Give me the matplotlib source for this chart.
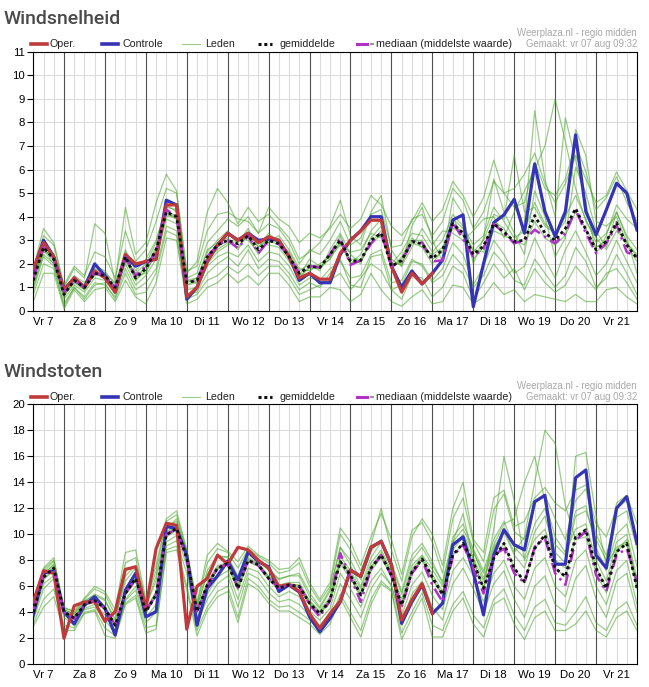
import numpy as np
import matplotlib
matplotlib.use('Agg')
import matplotlib.pyplot as plt
from matplotlib.lines import Line2D

W, H = 649, 687

# 6-hourly steps, Fri 7 06:00 -> Sat 22 00:00
day_labels = ['Vr 7', 'Za 8', 'Zo 9', 'Ma 10', 'Di 11', 'Wo 12', 'Do 13', 'Vr 14',
              'Za 15', 'Zo 16', 'Ma 17', 'Di 18', 'Wo 19', 'Do 20', 'Vr 21']

# ---- Windsnelheid ----
speed_oper = [1.8,2.9,2.3,0.9,1.4,1.0,1.7,1.4,0.8,2.4, 2.0,2.1,2.2,4.5,4.5,0.6,1.0,2.1,2.8,3.3,
              3.0,3.3,2.9,3.15,3.0,2.3,1.4,1.6,1.35,1.35, 2.45,3.0,3.4,3.85,3.85,1.9,0.8,1.6,1.15,1.6]
speed_ctrl = [1.7,3.0,2.3,0.9,1.4,1.0,2.0,1.5,0.8,2.3, 1.9,2.1,2.2,4.7,4.5,0.5,1.0,2.1,2.8,3.3,
              3.0,3.3,3.0,3.05,3.0,2.3,1.3,1.6,1.2,1.2, 2.4,3.0,3.4,4.0,4.0,1.9,1.0,1.7,1.15,1.6,
              2.16,3.86,4.08,0.18,2.0,3.75,4.08,4.74,3.3,6.24, 4.22,3.16,4.22,7.47,4.22,3.23,4.29,5.42,5.0,3.44]
speed_mean = [1.3,2.7,2.2,0.7,1.3,1.0,1.6,1.5,1.0,2.3, 1.4,1.8,2.6,4.2,4.0,1.2,1.3,2.3,2.8,3.0,
              2.85,3.2,2.6,3.0,2.85,2.3,1.6,1.9,1.85,2.4, 3.0,2.1,2.15,3.0,3.3,1.9,2.15,2.95,2.85,2.23,
              2.6,3.7,3.3,2.4,2.75,3.7,3.35,2.95,3.0,4.05, 3.3,3.0,3.5,4.35,3.45,2.6,2.95,3.75,2.8,2.23]
speed_median = [1.4,2.7,2.2,0.8,1.3,1.0,1.6,1.5,1.0,2.3, 1.5,1.9,2.5,4.3,4.0,1.2,1.3,2.3,2.8,3.0,
                2.66,3.2,2.45,3.0,2.85,2.3,1.6,1.9,1.85,2.4, 3.1,1.95,2.15,2.85,3.35,1.9,2.1,2.95,2.9,2.1,
                2.15,3.75,3.05,2.3,2.65,3.7,3.3,2.87,3.0,3.45, 3.15,2.87,3.3,4.3,3.3,2.45,2.87,3.65,2.5,2.3]
speed_members = [
    [1.6,3.2,2.8,1.0,1.8,1.4,3.7,3.3,1.2,4.4, 2.4,2.9,4.6,5.8,5.1,1.6,2.1,4.2,5.2,4.6,
     3.7,4.4,3.8,4.1,3.6,3.1,2.2,2.5,2.9,3.6, 4.7,3.2,2.8,4.2,4.9,2.6,1.9,3.6,4.4,3.0,
     2.1,4.8,4.1,2.0,3.1,5.6,4.2,3.3,2.4,5.1, 4.0,2.3,3.1,6.1,5.0,3.4,2.7,4.2,3.1,1.6],
    [0.9,2.3,1.9,0.3,1.0,0.6,1.2,1.1,0.6,1.8, 0.9,1.2,1.8,3.6,3.4,0.7,0.8,1.6,2.0,2.3,
     1.9,2.6,1.8,2.2,2.1,1.6,0.9,1.2,1.0,1.6, 2.2,1.1,1.0,2.3,2.4,0.9,1.1,2.1,2.0,1.3,
     1.8,2.9,2.4,1.1,1.9,3.0,2.4,1.6,1.9,3.1, 2.2,1.4,2.6,3.4,2.5,1.5,2.0,3.0,2.1,1.2],
    [1.4,2.9,2.4,0.9,1.4,1.1,1.9,1.7,1.1,2.6, 1.7,2.2,3.0,4.4,4.3,1.4,1.6,2.9,3.4,3.9,
     3.6,4.0,3.3,3.7,3.5,2.9,2.0,2.6,2.4,3.0, 3.8,2.8,3.1,4.1,4.3,2.7,2.8,3.9,4.1,3.2,
     3.8,5.2,4.7,3.5,4.2,5.5,5.0,4.4,4.6,6.3, 5.2,4.9,5.6,7.1,5.9,4.3,4.8,5.7,4.6,3.8],
    [1.0,2.4,2.0,0.5,1.1,0.8,1.4,1.3,0.8,2.0, 1.1,1.5,2.2,3.9,3.7,0.9,1.0,1.9,2.3,2.5,
     2.3,2.8,2.1,2.5,2.4,1.9,1.1,1.4,1.3,1.8, 2.1,1.4,1.5,2.4,2.6,1.2,1.3,2.2,1.9,1.2,
     1.5,2.4,1.9,1.0,1.5,2.5,2.0,1.3,1.1,2.2, 1.6,1.0,1.5,2.7,2.1,1.0,1.4,2.4,1.6,0.7],
    [0.4,1.6,1.6,0.1,0.9,0.4,0.9,1.0,0.4,1.3, 0.6,0.3,1.2,3.1,3.0,0.3,0.5,1.0,1.2,1.6,
     1.2,1.5,1.1,1.6,1.6,1.1,0.4,0.6,0.6,1.0, 0.9,0.4,0.7,1.6,0.9,0.4,0.2,0.6,0.9,0.3,
     0.4,1.1,1.0,0.3,0.6,1.2,0.7,0.9,0.4,0.7, 0.6,0.5,0.4,0.7,0.4,0.4,0.9,1.0,0.6,0.3],
    [1.3,2.7,2.1,0.7,1.2,0.9,1.6,1.4,1.0,2.4, 1.4,1.9,2.7,4.1,3.9,1.2,1.4,2.5,3.0,3.4,
     2.9,3.5,2.7,3.3,2.9,2.5,1.7,2.0,1.7,2.6, 3.3,2.4,2.0,3.1,3.6,2.0,2.5,3.3,3.2,2.5,
     3.0,4.1,3.6,2.8,3.2,4.4,3.8,3.1,3.4,4.6, 3.7,3.3,4.0,4.9,3.9,2.9,3.3,4.2,3.2,2.6],
    [1.5,2.6,2.3,0.8,1.5,1.2,1.8,1.6,1.2,2.2, 1.6,2.0,2.9,4.5,4.2,1.3,1.2,2.2,2.6,2.9,
     3.1,3.0,2.5,2.9,3.2,2.6,1.8,1.7,2.0,2.3, 2.8,2.5,2.6,3.3,3.1,2.2,1.9,2.7,3.5,2.8,
     3.4,3.3,3.0,3.4,3.9,4.0,3.1,4.2,5.1,6.0, 7.0,9.0,7.2,5.2,3.8,3.1,2.6,3.4,2.9,2.3],
    [1.2,2.8,2.2,0.6,1.3,1.0,1.5,1.6,0.9,2.5, 1.3,1.7,2.4,4.0,4.1,1.1,1.3,2.6,2.9,3.1,
     2.6,3.3,2.9,2.8,2.7,2.1,1.5,2.2,1.9,2.2, 3.2,2.0,2.4,3.4,3.9,1.8,2.3,3.1,2.7,2.0,
     2.6,3.9,3.2,2.2,2.7,3.8,3.5,2.8,3.7,8.5, 5.6,4.0,8.2,6.4,4.6,2.4,3.2,4.5,3.9,3.5],
    [1.1,2.5,2.4,0.7,1.2,1.1,1.7,1.4,1.0,2.1, 1.5,1.6,2.5,4.3,4.0,1.3,1.4,2.0,2.5,2.8,
     3.0,3.1,2.4,3.0,2.8,2.3,1.5,1.8,1.8,2.2, 2.9,2.2,2.2,2.9,3.2,2.0,2.0,2.9,2.7,2.4,
     2.7,3.5,3.4,2.6,2.5,3.4,3.2,3.0,2.8,3.8, 3.1,2.8,3.2,4.2,3.5,2.7,3.0,3.6,2.8,2.1],
    [1.3,2.6,2.0,0.7,1.3,0.9,1.6,1.5,1.0,2.2, 1.3,1.9,2.6,4.2,3.9,1.1,1.2,2.3,2.7,3.0,
     2.7,3.3,2.7,3.1,2.9,2.2,1.4,1.9,1.8,2.4, 2.9,2.0,2.1,2.9,3.4,1.8,2.2,3.0,3.0,2.2,
     2.5,3.9,3.5,2.5,3.0,4.1,3.9,6.6,4.2,4.4, 3.6,3.3,3.8,7.7,6.6,3.8,3.6,4.0,2.9,2.4],
    [0.7,2.0,1.8,0.2,1.0,0.5,1.1,1.2,0.5,1.6, 0.7,0.8,1.6,3.4,3.2,0.5,0.7,1.3,1.5,1.9,
     1.6,2.0,1.5,1.9,1.9,1.4,0.7,0.9,1.1,1.3, 1.6,0.9,1.4,2.0,1.7,0.9,0.5,1.5,1.4,0.6,
     1.0,1.9,1.6,0.5,1.2,2.0,1.4,1.8,0.9,1.8, 1.2,0.8,1.1,1.9,1.4,0.9,1.6,1.8,1.2,0.5],
    [1.8,3.5,2.9,1.1,1.9,1.5,2.5,2.3,1.4,3.4, 2.1,2.6,3.8,5.2,5.0,1.7,1.9,3.4,4.1,4.2,
     3.9,3.8,3.3,4.4,3.9,3.6,2.9,3.3,3.1,3.5, 4.1,3.5,3.9,4.9,4.5,3.6,3.2,3.8,4.6,3.8,
     4.3,5.5,4.9,4.0,4.8,6.4,5.0,5.2,5.8,6.7, 5.4,4.6,5.4,6.6,5.6,4.6,4.9,5.9,5.1,4.3],
]

# ---- Windstoten ----
gust_oper = [4.8,7.2,7.0,2.0,4.5,4.8,4.8,3.3,4.05,7.3, 7.5,4.3,8.9,10.85,10.7,2.7,6.0,6.6,8.4,7.7,
             9.0,8.8,8.0,7.4,6.0,6.15,5.6,3.9,2.77,3.9, 4.87,7.25,6.75,9.0,9.45,7.65,3.4,4.95,6.2,3.9]
gust_ctrl = [3.8,7.0,7.2,4.05,3.1,4.55,5.2,4.3,2.25,5.7, 7.0,3.65,4.05,10.6,10.45,8.4,3.0,5.85,6.8,7.95,
             6.5,8.65,7.9,7.5,5.6,6.1,5.55,3.65,2.5,3.55, 4.8,7.25,6.75,9.0,9.45,7.65,3.15,4.8,6.1,3.9,
             4.7,9.2,9.8,7.1,3.8,8.4,10.35,9.2,8.8,12.5, 13.0,7.7,7.7,14.35,14.95,8.4,7.4,12.0,12.9,9.3]
gust_mean = [4.0,6.7,7.4,4.05,3.55,4.6,4.9,4.3,3.0,5.45, 6.6,4.05,5.35,9.95,10.45,8.15,4.05,6.1,7.4,7.75,
             5.85,8.0,7.65,6.6,5.85,6.1,6.0,4.7,3.9,4.95, 7.9,6.85,5.35,7.4,8.4,6.85,4.55,7.1,8.1,6.7,
             5.35,8.4,9.3,7.9,5.85,8.15,9.3,7.4,6.35,8.9, 9.95,7.4,6.75,9.8,10.35,7.4,5.85,8.65,9.3,5.85]
gust_median = [4.1,6.8,7.3,4.0,3.5,4.6,4.9,4.3,3.0,5.5, 6.5,4.1,5.4,10.0,10.4,8.1,4.1,6.0,7.4,7.7,
               5.9,8.0,7.6,6.6,5.9,6.1,6.0,4.6,3.65,4.9, 8.55,6.7,4.8,7.3,8.4,6.8,4.4,7.0,8.0,6.1,
               4.8,8.3,9.2,7.4,5.45,8.4,8.9,7.0,6.25,9.05, 9.7,7.0,6.1,9.55,10.2,6.85,5.6,8.4,8.9,6.35]
gust_members = [
    [4.6,7.4,8.2,4.3,4.1,5.1,6.0,5.6,4.2,8.6, 8.8,5.0,7.6,11.2,11.8,8.8,4.7,8.4,9.3,8.7,
     7.9,9.1,8.4,8.0,7.3,7.4,8.2,6.3,5.0,6.3, 10.5,9.4,7.6,9.8,11.6,9.6,6.9,10.3,10.9,9.4,
     7.0,11.2,12.8,9.4,7.9,11.9,13.1,10.2,9.6,12.4, 13.0,11.2,9.6,12.6,13.5,10.0,8.4,11.3,11.8,8.9],
    [3.1,5.0,5.8,3.0,2.8,4.0,4.2,2.8,2.2,4.7, 5.3,2.8,3.0,8.8,9.1,6.0,2.6,4.4,5.6,6.0,
     3.6,6.6,6.0,5.0,4.4,4.5,4.0,3.4,2.6,3.4, 5.4,4.0,2.6,5.0,6.4,5.7,2.4,4.0,5.5,3.0,
     2.6,4.6,5.6,3.8,2.8,5.0,5.8,3.8,2.6,4.4, 5.0,3.2,3.0,4.0,5.2,3.2,2.6,4.2,4.8,3.0],
    [4.3,7.1,7.9,4.2,3.8,4.9,5.3,4.9,3.5,6.4, 7.4,4.5,6.4,10.6,11.0,8.6,4.4,6.9,8.2,8.3,
     6.8,8.6,8.1,7.4,6.5,6.8,7.0,5.5,4.4,5.8, 9.0,8.0,6.5,8.7,9.6,7.9,5.6,8.4,9.3,7.9,
     6.2,9.8,10.8,8.9,7.2,9.6,11.0,9.0,8.2,10.8, 12.0,9.2,8.4,11.8,12.2,9.0,7.2,10.0,10.8,7.5],
    [3.6,6.2,6.8,3.8,3.2,4.3,4.6,3.8,2.6,5.0, 6.0,3.6,4.6,9.4,9.9,7.6,3.6,5.4,6.7,7.2,
     5.0,7.4,7.1,6.0,5.2,5.6,5.2,4.1,3.4,4.3, 7.0,5.8,4.4,6.4,7.4,6.0,3.7,6.1,7.1,5.3,
     4.2,7.2,8.2,6.8,4.8,7.0,8.0,6.0,5.0,7.4, 8.2,6.0,5.2,8.0,8.8,6.0,4.6,7.2,8.0,4.6],
    [4.0,6.8,7.5,4.1,3.6,4.7,5.0,4.5,3.1,5.6, 6.7,4.1,5.5,10.1,10.6,8.3,4.1,6.3,7.6,7.8,
     6.0,8.1,7.7,6.7,6.0,6.2,6.1,4.8,4.0,5.0, 8.0,7.0,5.5,7.5,8.6,7.0,4.7,7.3,8.3,6.9,
     5.6,8.8,9.8,8.2,6.4,8.8,10.4,8.6,9.8,14.0, 18.0,17.0,12.2,9.6,9.8,7.0,5.5,8.8,9.6,6.2],
    [3.9,6.5,7.2,4.0,3.5,4.5,4.8,4.2,3.0,5.3, 6.4,4.0,5.2,9.8,10.3,8.0,4.0,6.0,7.3,7.6,
     5.7,7.9,7.5,6.5,5.7,6.0,5.9,4.6,3.8,4.8, 7.7,6.6,5.2,7.2,8.2,6.7,4.4,7.0,8.0,6.5,
     5.4,9.4,11.6,8.0,5.8,10.4,16.0,12.6,8.0,9.6, 10.4,8.0,7.4,16.0,16.3,11.4,7.6,9.0,9.4,5.8],
    [4.2,6.9,7.7,4.0,3.7,4.6,5.0,4.4,2.9,5.5, 6.6,4.2,5.6,10.2,10.7,8.1,4.2,6.2,7.4,7.9,
     6.2,8.2,7.8,6.8,6.1,6.3,6.3,4.9,4.1,5.2, 8.3,7.2,5.8,7.8,8.8,7.2,5.0,7.6,8.4,7.3,
     6.0,9.0,10.0,8.6,7.0,9.2,10.8,11.2,14.0,16.0, 12.6,9.8,8.6,10.4,10.8,8.0,6.4,9.4,10.0,6.6],
    [3.4,5.8,6.6,3.6,3.0,4.2,4.4,3.4,2.4,4.9, 5.7,3.2,4.0,9.1,9.5,7.0,3.2,5.0,6.2,6.8,
     4.4,7.0,6.6,5.5,4.8,5.0,4.6,3.7,3.0,3.9, 6.2,5.0,3.6,5.8,7.0,6.1,3.0,5.4,6.4,4.4,
     3.4,6.2,7.4,5.8,4.0,6.2,7.2,5.0,3.6,6.0, 6.8,4.6,4.0,6.6,7.6,5.0,3.6,6.4,7.0,4.0],
    [4.1,6.6,7.3,4.1,3.5,4.6,4.9,4.3,3.0,5.4, 6.5,4.0,5.3,9.9,10.4,8.2,4.0,6.1,7.4,7.7,
     5.8,8.0,7.6,6.6,5.8,6.1,6.0,4.7,3.9,4.9, 7.9,6.8,5.3,7.4,8.4,6.8,4.5,7.1,8.1,6.6,
     5.3,8.4,9.3,7.9,5.9,8.2,9.3,7.4,6.3,8.9, 9.9,7.4,6.7,9.8,10.3,7.4,5.9,8.7,9.3,5.9],
    [4.5,7.3,8.0,4.4,4.0,5.0,5.8,5.4,3.8,7.8, 8.2,4.8,7.2,11.0,11.5,8.7,4.6,7.8,8.9,8.6,
     7.4,8.9,8.3,7.8,7.0,7.2,7.8,6.0,4.8,6.0, 10.0,8.8,7.2,9.2,12.0,8.8,6.4,9.8,11.2,10.0,
     7.6,12.0,14.0,9.6,8.6,12.8,13.4,10.6,11.0,12.8, 13.6,12.4,11.8,13.4,13.8,10.8,9.8,12.0,12.6,9.6],
    [2.9,4.4,5.2,2.6,2.6,3.9,4.1,2.2,2.0,4.6, 5.1,2.4,2.7,8.6,8.8,5.7,2.2,4.1,5.2,5.6,
     3.2,6.2,5.7,4.7,4.1,4.1,3.6,3.1,2.3,3.1, 5.1,3.6,2.1,4.6,6.2,5.6,1.9,3.6,5.1,2.1,
     2.1,4.1,5.1,3.1,2.1,4.6,5.1,3.1,1.9,3.6, 4.1,2.6,2.6,3.1,4.1,2.6,2.1,3.6,4.1,2.6],
    [4.4,7.0,7.6,4.2,3.9,4.8,5.4,5.0,3.3,6.8, 7.6,4.4,6.8,10.4,11.2,8.4,4.4,7.2,8.4,8.2,
     6.6,8.4,8.0,7.2,6.6,6.8,6.8,5.2,4.3,5.6, 9.0,7.6,6.0,8.2,9.4,7.6,5.4,8.0,9.0,7.6,
     6.4,9.4,10.4,8.8,6.6,9.0,10.2,8.4,7.4,10.2, 11.4,8.6,7.8,11.4,11.8,9.6,8.0,12.4,13.0,10.8],
]

FONT = 'Liberation Sans'
plt.rcParams['font.family'] = FONT

c_oper = '#c0393b'
c_ctrl = '#3434b4'
c_leden = '#45a524'
c_mean = '#111111'
c_med = '#b030c8'

fig = plt.figure(figsize=(W / 100, H / 100), dpi=100)


def add_ax(left, top, right, bottom):
    return fig.add_axes([left / W, 1 - bottom / H, (right - left) / W, (bottom - top) / H])


def fl(x, y):
    return x / W, 1 - y / H


def panel(ax, members, ctrl, oper, mean, med, ymax, ystep):
    n = len(ctrl)
    t = np.arange(n)
    ax.set_xlim(0, n - 1)
    ax.set_ylim(0, ymax)
    for i in t[1:-1]:
        if (i - 3) % 4 == 0:
            ax.axvline(i, color='#505050', lw=0.8, zorder=1)
        else:
            ax.axvline(i, color='#dadada', lw=0.75, zorder=0)
    for v in np.arange(ystep, ymax, ystep):
        ax.axhline(v, color='#dadada', lw=0.75, zorder=0)
    for m in members:
        ax.plot(t, m, color=c_leden, lw=0.9, alpha=0.55, zorder=2)
    ax.plot(t, ctrl, color=c_ctrl, lw=2.3, zorder=3)
    ax.plot(np.arange(len(oper)), oper, color=c_oper, lw=2.3, zorder=4)
    ax.plot(t, med, color=c_med, lw=1.8, ls=(0, (5, 2, 1, 2)), zorder=5)
    ax.plot(t, mean, color=c_mean, lw=2.0, ls=(0, (1.1, 1.1)), zorder=6)
    ax.set_yticks(np.arange(0, ymax + 0.01, ystep))
    ax.set_xticks(np.arange(1, n, 4))
    ax.set_xticklabels(day_labels)
    ax.tick_params(axis='x', length=0, pad=4, labelsize=8.2)
    ax.tick_params(axis='y', length=4, width=0.8, pad=2, labelsize=8.2)
    for s in ax.spines.values():
        s.set_color('black')
        s.set_linewidth(0.8)


def header(title, ty, ly):
    fig.text(*fl(4, ty), title, fontsize=14, family='Roboto', fontweight='medium',
             color='#4a4a4a', va='baseline', ha='left')

    def seg(x0, x1, **kw):
        fig.add_artist(Line2D([x0 / W, x1 / W], [1 - ly / H] * 2,
                              transform=fig.transFigure, **kw))
    seg(31, 47, color=c_oper, lw=2.6)
    seg(102, 118, color=c_ctrl, lw=2.6)
    seg(182, 200, color='#9ccc8a', lw=0.8)
    seg(257.5, 272, color=c_mean, lw=2.2, ls=(0, (1, 0.9)))
    seg(357, 367, color=c_med, lw=2.2)
    seg(370.5, 372.5, color='#999999', lw=1.5)
    for x, s in [(50, 'Oper.'), (122, 'Controle'), (205, 'Leden'),
                 (279, 'gemiddelde'), (376, 'mediaan (middelste waarde)')]:
        fig.text(*fl(x, ly), s, fontsize=7.7, color='#222222', va='center', ha='left')
    fig.text(*fl(637, ly - 11), 'Weerplaza.nl - regio midden', fontsize=6.9,
             color='#a8a8a8', va='center', ha='right')
    fig.text(*fl(637, ly), 'Gemaakt: vr 07 aug 09:32', fontsize=6.9,
             color='#a8a8a8', va='center', ha='right')


ax1 = add_ax(33.3, 51.7, 637, 311)
panel(ax1, speed_members, speed_ctrl, speed_oper, speed_mean, speed_median, 11, 1)
header('Windsnelheid', 24, 44)

ax2 = add_ax(33.3, 404.3, 637, 664.3)
panel(ax2, gust_members, gust_ctrl, gust_oper, gust_mean, gust_median, 20, 2)
header('Windstoten', 377, 397.3)

fig.savefig('out.png', dpi=100, facecolor='white')
